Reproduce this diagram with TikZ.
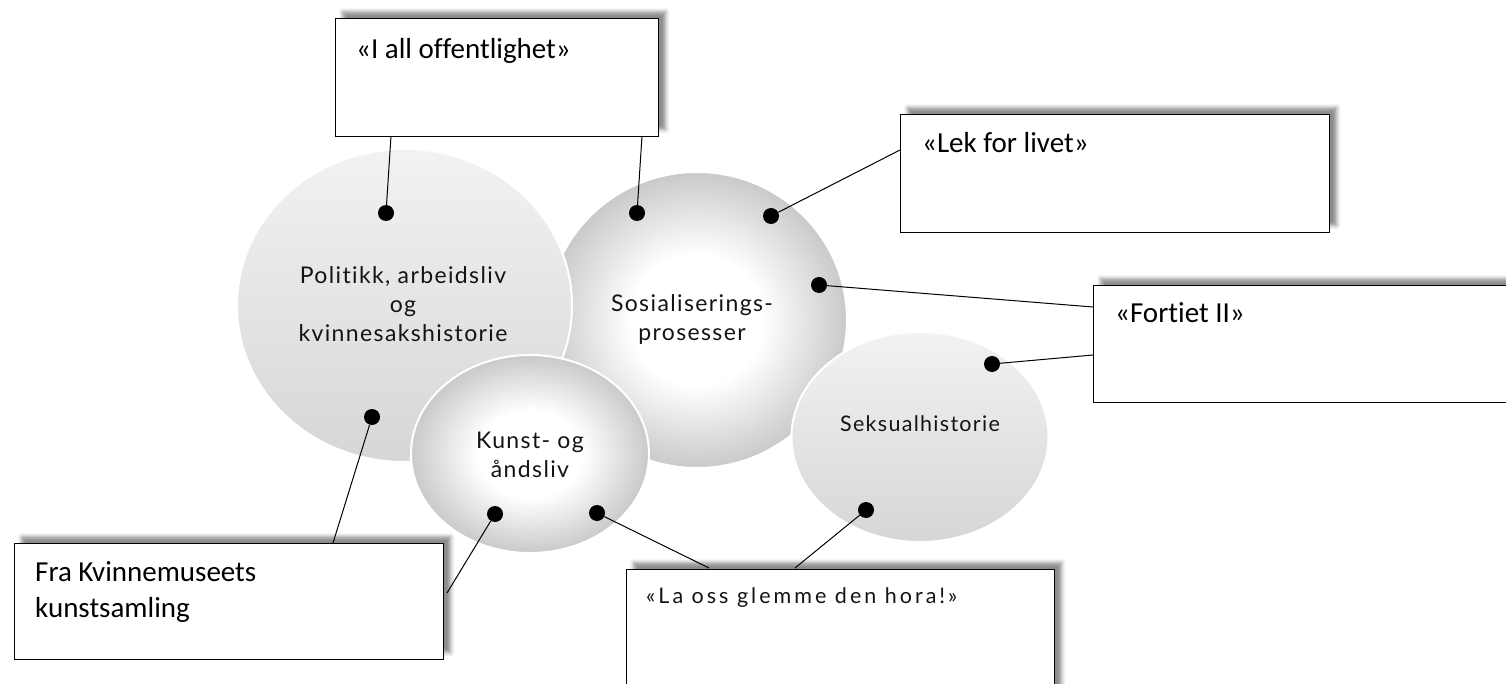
\documentclass[tikz,border=0pt]{standalone}
\usepackage{fontspec}
\setmainfont{Carlito}[Ligatures=NoCommon]
\newfontfamily\lblfont{Lato}[LetterSpace=6,Ligatures=NoCommon]
\newfontfamily\widefont{Lato}[LetterSpace=14,Ligatures=NoCommon]
\usetikzlibrary{shapes.geometric,shadows.blur}
\pgfdeclareradialshading{ballshade}{\pgfpoint{0bp}{0bp}}{color(0bp)=(white); color(11bp)=(white); color(25bp)=(black!21); color(50bp)=(black!21)}
\tikzset{
  box/.style={draw=black, line width=1.3pt, fill=white, rectangle, inner sep=0pt, anchor=north west,
    blur shadow={shadow xshift=7pt, shadow yshift=7pt, shadow blur radius=4pt, shadow opacity=45}},
  boxtext/.style={font=\fontsize{29}{36}\selectfont, inner sep=0pt, text=black},
  dot/.style={circle, fill=black, minimum size=16pt, inner sep=0pt},
  conn/.style={line width=1pt, draw=black},
  bubble/.style={ellipse, draw=white, line width=2pt, inner sep=0pt},
  flatbubble/.style={bubble, top color=black!5, bottom color=black!16},
  ballbubble/.style={bubble, shading=ballshade},
  lbl/.style={font=\lblfont\fontsize{23}{29}\selectfont, align=center, inner sep=0pt, text=black!92}
}
\begin{document}
\begin{tikzpicture}[x=1pt, y=-1pt]
\useasboundingbox (0,0) rectangle (1506,684);
\clip (0,0) rectangle (1506,684);
% boxes
\node[box, minimum width=323pt, minimum height=118pt] (b1) at (335,18) {};
\node[box, minimum width=429pt, minimum height=118pt] (b2) at (900,114) {};
\node[box, minimum width=460pt, minimum height=117pt] (b3) at (1093,285) {};
\node[box, minimum width=429pt, minimum height=116pt] (b4) at (14,543) {};
\node[box, minimum width=428pt, minimum height=140pt] (b5) at (626,569) {};
\node[boxtext, anchor=base west] (t1) at (356,59) {«I all offentlighet»};
\node[boxtext, anchor=base west] (t2) at (922,153) {«Lek for livet»};
\node[boxtext, anchor=base west] (t3) at (1115,323) {«Fortiet II»};
\node[boxtext, anchor=north west, align=left] (t4) at (35,561) {Fra Kvinnemuseets\\kunstsamling};
\node[font=\widefont\fontsize{21.5}{25}\selectfont, inner sep=0pt, anchor=base west, text=black!92] (t5) at (646,603) {«La oss glemme den hora!»};
% bubbles
\node[ballbubble, minimum width=300pt, minimum height=296pt] (sos) at (697,320) {};
\node[flatbubble, minimum width=335pt, minimum height=313pt] (pol) at (404.5,305.5) {};
\node[flatbubble, minimum width=257pt, minimum height=210pt] (sek) at (920,437) {};
\node[ballbubble, minimum width=238pt, minimum height=198pt] (kun) at (530,454) {};
% labels
\node[lbl] (lpol) at (403,304) {Politikk, arbeidsliv\\og\\kvinnesakshistorie};
\node[lbl] (lsos) at (692,320) {Sosialiserings-\\prosesser};
\node[lbl] (lkun) at (530,455) {Kunst- og\\åndsliv};
\node[lbl, font=\lblfont\fontsize{21.5}{27}\selectfont, anchor=base] (lsek) at (920,431) {Seksualhistorie};
% connector ends
\coordinate (c1) at (391,136);
\coordinate (c3) at (642,136);
\coordinate (c4) at (900,150);
\coordinate (c5) at (1093,307);
\coordinate (c8) at (1093,355);
\coordinate (c2) at (333,543);
\coordinate (c6) at (447,593);
\coordinate (c7) at (709,568);
\coordinate (c9) at (795,568);
% dots
\node[dot] (d1) at (386,213) {};
\node[dot] (d2) at (372,417) {};
\node[dot] (d3) at (637,213) {};
\node[dot] (d4) at (771,216) {};
\node[dot] (d5) at (819,285) {};
\node[dot] (d6) at (495,514) {};
\node[dot] (d7) at (597,513) {};
\node[dot] (d8) at (992,364) {};
\node[dot] (d9) at (866,510) {};
% connectors
\draw[conn] (d1) -- (c1);
\draw[conn] (d3) -- (c3);
\draw[conn] (d4) -- (c4);
\draw[conn] (d5) -- (c5);
\draw[conn] (d8) -- (c8);
\draw[conn] (d2) -- (c2);
\draw[conn] (d6) -- (c6);
\draw[conn] (d7) -- (c7);
\draw[conn] (d9) -- (c9);
\end{tikzpicture}
\end{document}
